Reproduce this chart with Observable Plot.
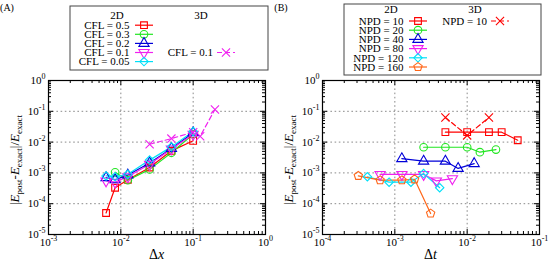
<!DOCTYPE html>
<html>
<head>
<meta charset="utf-8">
<script src="https://cdn.jsdelivr.net/npm/d3@7"></script>
<script src="https://cdn.jsdelivr.net/npm/@observablehq/plot@0.6"></script>
<style>
  html, body { margin: 0; padding: 0; background: #fff; }
  #fig { position: relative; width: 548px; height: 261px; overflow: hidden; background: #fff; }
  #fig > svg { position: absolute; top: 0; }
</style>
</head>
<body>
<div id="fig"></div>
<script>
// ---- (A) error vs grid spacing ----
const dxA      = [0.00625, 0.00833, 0.0125, 0.025, 0.05, 0.1];
const dxA03    = [0.00833, 0.0125, 0.025, 0.05, 0.1];
const errCfl05  = [5e-5, 3.3e-4, 6.0e-4, 1.5e-3, 5.2e-3, 0.011];
const errCfl03  = [1.05e-3, 5.8e-4, 1.3e-3, 4.5e-3, 0.018];
const errCfl02  = [7.0e-4, 6.0e-4, 8.5e-4, 2.1e-3, 6.2e-3, 0.020];
const errCfl01  = [5.5e-4, 5.0e-4, 7.5e-4, 1.9e-3, 6.0e-3, 0.018];
const errCfl005 = [8.0e-4, 7.5e-4, 9.0e-4, 2.6e-3, 7.0e-3, 0.022];
const dxA3d       = [0.025, 0.05, 0.1, 0.125, 0.2];
const errCfl01_3d = [8.5e-3, 0.013, 0.021, 0.0155, 0.115];

// ---- (B) error vs time step ----
const dtNpd10  = [0.005, 0.01, 0.02, 0.03, 0.05];
const errNpd10 = [0.021, 0.021, 0.021, 0.021, 0.0115];
const dtNpd10_3d  = [0.005, 0.01, 0.02];
const errNpd10_3d = [0.063, 0.0165, 0.063];
const dtNpd20  = [0.0025, 0.005, 0.01, 0.015, 0.025];
const errNpd20 = [0.0068, 0.0068, 0.0068, 0.0047, 0.0057];
const dtNpd40  = [0.00125, 0.0025, 0.005, 0.0075, 0.0125];
const errNpd40 = [0.0029, 0.0024, 0.0024, 0.0014, 0.0020];
const dtNpd80  = [0.000625, 0.00125, 0.0025, 0.00375, 0.00625];
const errNpd80 = [8.9e-4, 8.9e-4, 8.9e-4, 5.5e-4, 6.5e-4];
const dtNpd120  = [0.000417, 0.000833, 0.00167, 0.0025, 0.00417];
const errNpd120 = [7.5e-4, 5.0e-4, 5.0e-4, 9.5e-4, 3.3e-4];
const dtNpd160  = [0.0003125, 0.000625, 0.00125, 0.001875, 0.003125];
const errNpd160 = [8.0e-4, 5.8e-4, 5.8e-4, 6.2e-4, 4.8e-5];

// axis decades
const decadesA = [-3, -2, -1, 0];
const decadesB = [-4, -3, -2, -1];
const decadesY = [-5, -4, -3, -2, -1, 0];

// ---- marker shapes not built into d3 ----
const symbolTriangleDown = {
  draw(ctx, size) {
    const y = -Math.sqrt(size / (Math.sqrt(3) * 3));
    ctx.moveTo(0, -y * 2);
    ctx.lineTo(-Math.sqrt(3) * y, y);
    ctx.lineTo(Math.sqrt(3) * y, y);
    ctx.closePath();
  }
};
const symbolPentagon = {
  draw(ctx, size) {
    const r = Math.sqrt(size / (2.5 * Math.sin(2 * Math.PI / 5)));
    for (let k = 0; k < 5; ++k) {
      const a = -Math.PI / 2 + k * 2 * Math.PI / 5;
      const px = r * Math.cos(a), py = r * Math.sin(a);
      k ? ctx.lineTo(px, py) : ctx.moveTo(px, py);
    }
    ctx.closePath();
  }
};

const RED = "#ff0000", GREEN = "#22e622", BLUE = "#0000d8",
      MAGENTA = "#f020f0", CYAN = "#00e0f8", ORANGE = "#ff6618";
const R = 3.8;

const panelA = {
  tag: "(A)",
  decadesX: decadesA,
  xName: "x",
  series: [
    {name: "CFL = 0.5",  dim: "2D", x: dxA,   y: errCfl05,  color: RED,     symbol: d3.symbolSquare},
    {name: "CFL = 0.3",  dim: "2D", x: dxA03, y: errCfl03,  color: GREEN,   symbol: d3.symbolCircle},
    {name: "CFL = 0.2",  dim: "2D", x: dxA,   y: errCfl02,  color: BLUE,    symbol: d3.symbolTriangle},
    {name: "CFL = 0.1",  dim: "2D", x: dxA,   y: errCfl01,  color: MAGENTA, symbol: symbolTriangleDown},
    {name: "CFL = 0.05", dim: "2D", x: dxA,   y: errCfl005, color: CYAN,    symbol: d3.symbolDiamond2},
    {name: "CFL = 0.1",  dim: "3D", x: dxA3d, y: errCfl01_3d, color: MAGENTA, symbol: d3.symbolTimes}
  ],
  legend: {box: [70, 6, 198, 64], headY: 15, row0: 25.2, rowStep: 9.1, row3D: 3}
};

const panelB = {
  tag: "(B)",
  decadesX: decadesB,
  xName: "t",
  series: [
    {name: "NPD = 10",  dim: "2D", x: dtNpd10,  y: errNpd10,  color: RED,     symbol: d3.symbolSquare},
    {name: "NPD = 20",  dim: "2D", x: dtNpd20,  y: errNpd20,  color: GREEN,   symbol: d3.symbolCircle},
    {name: "NPD = 40",  dim: "2D", x: dtNpd40,  y: errNpd40,  color: BLUE,    symbol: d3.symbolTriangle},
    {name: "NPD = 80",  dim: "2D", x: dtNpd80,  y: errNpd80,  color: MAGENTA, symbol: symbolTriangleDown},
    {name: "NPD = 120", dim: "2D", x: dtNpd120, y: errNpd120, color: CYAN,    symbol: d3.symbolDiamond2},
    {name: "NPD = 160", dim: "2D", x: dtNpd160, y: errNpd160, color: ORANGE,  symbol: symbolPentagon},
    {name: "NPD = 10",  dim: "3D", x: dtNpd10_3d, y: errNpd10_3d, color: RED, symbol: d3.symbolTimes}
  ],
  legend: {box: [70, 4, 197, 71], headY: 9.5, row0: 21, rowStep: 9.2, row3D: 0}
};

const FONT = "'Liberation Serif', 'Times New Roman', serif";
const W = 274, H = 261, MT = 80, MB = 27, ML = 48, MR = 9;
const PW = W - ML - MR, PH = H - MT - MB;

function minorTicks(decades) {
  const out = [];
  for (let i = 0; i < decades.length - 1; ++i)
    for (let m = 2; m <= 9; ++m) out.push(m * 10 ** decades[i]);
  return out;
}

function drawPanel(cfg) {
  const keys = cfg.series.map(s => s.dim + " " + s.name);
  const rows = cfg.series.flatMap(s =>
    s.x.map((x, i) => ({key: s.dim + " " + s.name, dim: s.dim, x, y: s.y[i]})));
  const majX = cfg.decadesX.map(e => 10 ** e);
  const majY = decadesY.map(e => 10 ** e);
  const minX = minorTicks(cfg.decadesX);
  const minY = minorTicks(decadesY);
  const fmt = d => "10^" + Math.round(Math.log10(d));

  const svg = Plot.plot({
    width: W, height: H,
    marginTop: MT, marginBottom: MB, marginLeft: ML, marginRight: MR,
    style: {fontFamily: FONT, fontSize: "11px", color: "#000", background: "#fff"},
    x: {type: "log", domain: [majX[0], majX[majX.length - 1]]},
    y: {type: "log", domain: [1e-5, 1]},
    color: {domain: keys, range: cfg.series.map(s => s.color)},
    symbol: {domain: keys, range: cfg.series.map(s => s.symbol)},
    marks: [
      Plot.gridX(majX, {stroke: "#8a8a8a", strokeOpacity: 1, strokeDasharray: "1.6,2.6"}),
      Plot.gridY(majY, {stroke: "#8a8a8a", strokeOpacity: 1, strokeDasharray: "1.6,2.6"}),
      // inward ticks on all four sides
      Plot.ruleX(majX, {insetTop: PH - 5, stroke: "#000"}),
      Plot.ruleX(majX, {insetBottom: PH - 5, stroke: "#000"}),
      Plot.ruleX(minX, {insetTop: PH - 3, stroke: "#000"}),
      Plot.ruleX(minX, {insetBottom: PH - 3, stroke: "#000"}),
      Plot.ruleY(majY, {insetRight: PW - 5, stroke: "#000"}),
      Plot.ruleY(majY, {insetLeft: PW - 5, stroke: "#000"}),
      Plot.ruleY(minY, {insetRight: PW - 3, stroke: "#000"}),
      Plot.ruleY(minY, {insetLeft: PW - 3, stroke: "#000"}),
      Plot.axisX({ticks: majX, tickSize: 0, tickPadding: 4, tickFormat: fmt, label: null, fontSize: 11}),
      Plot.axisY({ticks: majY, tickSize: 0, tickPadding: 3, tickFormat: fmt, label: null, fontSize: 11}),
      Plot.line(rows.filter(d => d.dim === "2D"),
        {x: "x", y: "y", z: "key", stroke: "key", strokeWidth: 1.2}),
      Plot.line(rows.filter(d => d.dim === "3D"),
        {x: "x", y: "y", z: "key", stroke: "key", strokeWidth: 1.2, strokeDasharray: "5,3"}),
      Plot.dot(rows, {x: "x", y: "y", stroke: "key", symbol: "key", r: R, strokeWidth: 1.1, fill: "none"}),
      Plot.frame({stroke: "#000", strokeWidth: 1.2})
    ]
  });

  // powers of ten as "10" with a raised exponent
  svg.querySelectorAll("text").forEach(t => {
    const m = /^10\^(.+)$/.exec(t.textContent);
    if (!m) return;
    t.textContent = "";
    const base = document.createElementNS("http://www.w3.org/2000/svg", "tspan");
    base.textContent = "10";
    const sup = document.createElementNS("http://www.w3.org/2000/svg", "tspan");
    sup.textContent = m[1];
    sup.setAttribute("dy", "-5");
    sup.setAttribute("font-size", "8");
    t.append(base, sup);
  });

  const s = d3.select(svg);
  s.append("text").attr("x", 7).attr("y", 11)
    .attr("font-family", FONT).attr("font-size", 10).text(cfg.tag);

  // x-axis title
  const xl = s.append("text").attr("x", ML + PW / 2).attr("y", 259)
    .attr("text-anchor", "middle").attr("font-family", FONT).attr("font-size", 14);
  xl.append("tspan").text("Δ");
  xl.append("tspan").attr("font-style", "italic").text(cfg.xName);

  // y-axis title: |E_post - E_exact| / E_exact
  const yl = s.append("text").attr("transform", `translate(19,${MT + PH / 2 + 3}) rotate(-90)`)
    .attr("text-anchor", "middle").attr("font-family", FONT).attr("font-size", 13);
  const part = (txt, opts = {}) => {
    const ts = yl.append("tspan").text(txt);
    for (const k in opts) ts.attr(k, opts[k]);
  };
  part("|");
  part("E", {"font-style": "italic"});
  part("post", {"font-size": 9, dy: 3});
  part("-", {dy: -3});
  part("E", {"font-style": "italic"});
  part("exact", {"font-size": 9, dy: 3});
  part("|/", {dy: -3});
  part("E", {"font-style": "italic"});
  part("exact", {"font-size": 9, dy: 3});

  // legend box
  const L = cfg.legend;
  const g = s.append("g").attr("font-family", FONT).attr("font-size", 11);
  g.append("rect").attr("x", L.box[0]).attr("y", L.box[1])
    .attr("width", L.box[2]).attr("height", L.box[3])
    .attr("fill", "#fff").attr("stroke", "#444").attr("stroke-width", 1);
  const cols = {
    "2D": {head: 117, labelRight: 129.5, sw0: 135, sw1: 153},
    "3D": {head: 201, labelRight: 213, sw0: 217, sw1: 235}
  };
  for (const dim of ["2D", "3D"]) {
    g.append("text").attr("x", cols[dim].head).attr("y", L.headY)
      .attr("dy", "0.35em").attr("text-anchor", "middle").text(dim);
  }
  let i2 = 0;
  cfg.series.forEach(sr => {
    const c = cols[sr.dim];
    const row = sr.dim === "2D" ? i2++ : L.row3D;
    const y = L.row0 + row * L.rowStep;
    g.append("text").attr("x", c.labelRight).attr("y", y).attr("dy", "0.35em")
      .attr("text-anchor", "end").text(sr.name);
    g.append("line").attr("x1", c.sw0).attr("x2", c.sw1).attr("y1", y).attr("y2", y)
      .attr("stroke", sr.color).attr("stroke-width", 1.2)
      .attr("stroke-dasharray", sr.dim === "3D" ? "5,3" : null);
    g.append("path").attr("transform", `translate(${(c.sw0 + c.sw1) / 2},${y})`)
      .attr("d", d3.symbol(sr.symbol, Math.PI * R * R)())
      .attr("fill", "none").attr("stroke", sr.color).attr("stroke-width", 1.1);
  });
  return svg;
}

const fig = document.getElementById("fig");
const a = drawPanel(panelA);
a.style.left = "0px";
const b = drawPanel(panelB);
b.style.left = "274px";
fig.append(a, b);
</script>
</body>
</html>
